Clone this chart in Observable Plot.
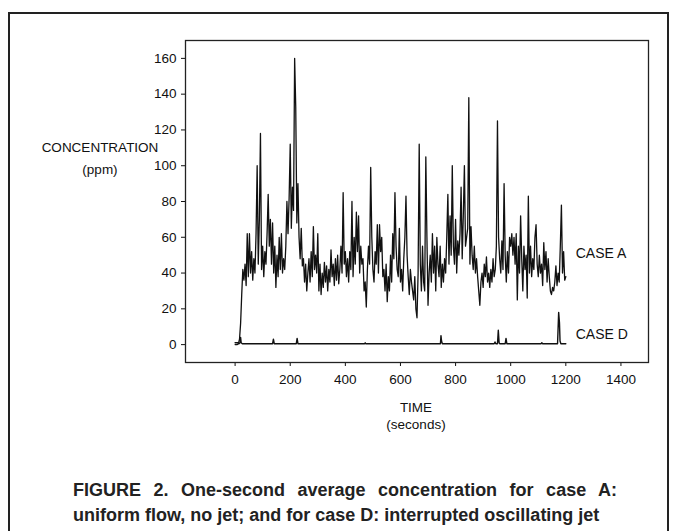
<!DOCTYPE html>
<html>
<head>
<meta charset="utf-8">
<script src="https://cdn.jsdelivr.net/npm/d3@7"></script>
<script src="https://cdn.jsdelivr.net/npm/@observablehq/plot@0.6"></script>
<style>
  html, body { margin: 0; padding: 0; background: #fff; }
  #wrap { position: relative; width: 673px; height: 531px; overflow: hidden; font-family: "Liberation Sans", Arial, sans-serif; color: #111; }
  #border { position: absolute; left: 8px; top: 12px; width: 657px; height: 560px; border: 2px solid #222; }
  #chart { position: absolute; left: 0; top: 0; }
  .lbl { position: absolute; font-size: 13.5px; white-space: nowrap; transform: translateX(-50%); }
  #caption { position: absolute; left: 73px; top: 478px; width: 544px; font-family: "Liberation Sans Narrow", "Arial Narrow", "Liberation Sans", Arial, sans-serif; font-stretch: condensed; font-weight: bold; font-size: 18px; line-height: 25px; color: #222; }
  #caption .l1 { text-align: justify; text-align-last: justify; }
</style>
</head>
<body>
<div id="wrap">
  <div id="border"></div>
  <div id="chart"></div>
  <div class="lbl" style="left:100px; top:140px;">CONCENTRATION</div>
  <div class="lbl" style="left:100px; top:162px;">(ppm)</div>
  <div class="lbl" style="left:416px; top:400px;">TIME</div>
  <div class="lbl" style="left:416px; top:417px;">(seconds)</div>
  <div id="caption">
    <div class="l1">FIGURE 2. One-second average concentration for case A:</div>
    <div>uniform flow, no jet; and for case D: interrupted oscillating jet</div>
  </div>
</div>
<script>
// Case A: concentration (ppm), [time s, value]
const caseA = [
[0,0],[4,0],[8,0],[12,0.5],[16,3],[20,12],[24,28],[28,42],[32,36],[36,45],[40,33],[44,62],[48,38],[52,62],[56,40],[60,52],
[64,36],[68,48],[72,40],[76,62],[80,100],[84,45],[88,70],[92,118],[96,42],[100,55],[104,38],[108,52],[112,45],[116,62],[120,84],[124,55],
[128,70],[132,45],[136,68],[140,40],[144,55],[148,32],[152,50],[156,38],[160,60],[164,42],[168,62],[172,40],[176,48],[180,42],[184,55],[188,80],
[192,62],[196,82],[200,112],[204,65],[208,88],[212,75],[216,160],[220,133],[224,68],[228,90],[232,60],[236,48],[240,65],[244,44],[248,48],[252,35],
[256,45],[260,30],[264,40],[268,48],[272,35],[276,52],[280,38],[284,66],[288,42],[292,50],[296,40],[300,62],[304,30],[308,45],[312,28],[316,40],
[320,32],[324,46],[328,35],[332,44],[336,30],[340,42],[344,35],[348,53],[352,38],[356,45],[360,33],[364,48],[368,36],[372,50],[376,34],[380,42],
[384,55],[388,40],[392,85],[396,45],[400,52],[404,38],[408,48],[412,35],[416,52],[420,42],[424,80],[428,38],[432,60],[436,45],[440,74],[444,52],
[448,72],[452,40],[456,55],[460,45],[464,48],[468,30],[472,35],[476,21],[480,42],[484,55],[488,45],[492,99],[496,60],[500,42],[504,35],[508,52],
[512,45],[516,67],[520,40],[524,67],[528,52],[532,60],[536,38],[540,42],[544,30],[548,45],[552,24],[556,38],[560,30],[564,50],[568,35],[572,62],
[576,48],[580,85],[584,55],[588,42],[592,38],[596,65],[600,35],[604,42],[608,30],[612,48],[616,60],[620,83],[624,50],[628,38],[632,28],[636,42],
[640,35],[644,30],[648,25],[652,38],[656,20],[660,15],[664,40],[668,112],[672,45],[676,30],[680,55],[684,35],[688,30],[692,105],[696,60],[700,22],
[704,40],[708,50],[712,35],[716,62],[720,40],[724,55],[728,30],[732,60],[736,45],[740,38],[744,55],[748,32],[752,45],[756,35],[760,48],[764,40],
[768,60],[772,84],[776,45],[780,72],[784,50],[788,100],[792,55],[796,45],[800,70],[804,40],[808,58],[812,50],[816,62],[820,88],[824,48],[828,72],
[832,100],[836,55],[840,60],[844,65],[848,138],[852,45],[856,66],[860,50],[864,42],[868,55],[872,40],[876,48],[880,38],[884,30],[888,22],[892,35],
[896,40],[900,32],[904,45],[908,38],[912,49],[916,35],[920,40],[924,32],[928,42],[932,35],[936,48],[940,38],[944,42],[948,55],[952,125],[956,60],
[960,48],[964,40],[968,58],[972,42],[976,90],[980,50],[984,35],[988,52],[992,40],[996,60],[1000,55],[1004,62],[1008,50],[1012,60],[1016,45],[1020,62],
[1024,25],[1028,55],[1032,40],[1036,72],[1040,48],[1044,30],[1048,55],[1052,42],[1056,50],[1060,26],[1064,83],[1068,40],[1072,55],[1076,38],[1080,48],[1084,42],
[1088,60],[1092,67],[1096,45],[1100,38],[1104,50],[1108,40],[1112,45],[1116,33],[1120,57],[1124,42],[1128,52],[1132,35],[1136,48],[1140,38],[1144,30],[1148,28],
[1152,32],[1156,30],[1160,35],[1164,44],[1168,33],[1172,40],[1176,35],[1180,55],[1184,78],[1188,40],[1192,52],[1196,36],[1200,38]
];

// Case D: concentration (ppm), [time s, value]
const caseD = [
[0,1],[10,1],[14,0.5],[18,1],[20,4],[22,1],[26,0.5],[136,0.5],[139,3],[142,0.5],[222,0.5],[225,3.5],[228,0.5],
[470,0.5],[472,1],[474,0.5],[745,0.5],[747,5],[749,2],[752,0.5],[940,0.5],[943,1.5],[946,0.5],[952,0.5],[955,8],[958,1],[960,0.5],
[980,0.5],[983,3.5],[986,0.5],[1110,0.5],[1113,1],[1116,0.5],[1170,0.5],[1174,18],[1177,12],[1179,2],[1182,0.5],[1200,0.5]
];

const xTicks = [0, 200, 400, 600, 800, 1000, 1200, 1400];
const yTicks = [0, 20, 40, 60, 80, 100, 120, 140, 160];
const seriesLabels = ["CASE A", "CASE D"];
const labelPos = [[1236, 51], [1236, 5.5]];

const labelData = seriesLabels.map((s, i) => ({label: s, t: labelPos[i][0], v: labelPos[i][1]}));
const toRows = arr => arr.map(([t, v]) => ({t, v}));

const chart = Plot.plot({
  width: 673,
  height: 400,
  marginLeft: 185,
  marginRight: 25,
  marginTop: 40,
  marginBottom: 38,
  style: {fontFamily: '"Liberation Sans", Arial, sans-serif', fontSize: "13.5px", color: "#111", background: "transparent"},
  x: {domain: [-180, 1500], ticks: xTicks, tickFormat: d => String(d), tickSize: 4, tickPadding: 8, label: null},
  y: {domain: [-10, 170], ticks: yTicks, tickFormat: d => String(d), tickSize: 4, tickPadding: 5, label: null},
  marks: [
    Plot.frame({stroke: "#222", strokeWidth: 1.3}),
    Plot.line(toRows(caseA), {x: "t", y: "v", stroke: "#111", strokeWidth: 1.3}),
    Plot.line(toRows(caseD), {x: "t", y: "v", stroke: "#111", strokeWidth: 1.4}),
    Plot.text(labelData, {x: "t", y: "v", text: "label", textAnchor: "start", fontSize: 14, fill: "#111"})
  ]
});
document.getElementById("chart").appendChild(chart);
</script>
</body>
</html>
